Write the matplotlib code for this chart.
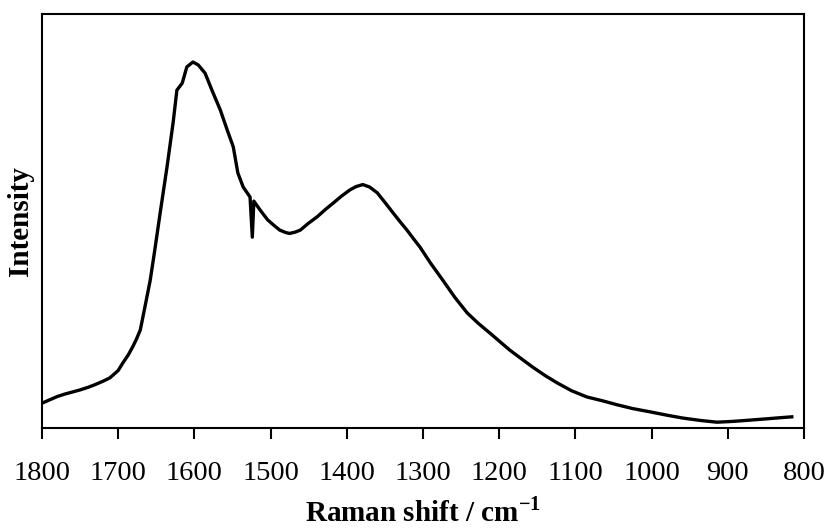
import matplotlib
matplotlib.use("Agg")
import matplotlib.pyplot as plt

# Raman shift (cm-1) and intensity (arbitrary, % of axis height)
shift = [1800, 1790, 1780, 1770, 1760, 1750, 1740, 1730, 1720, 1711, 1700, 1694, 1687,
         1681, 1676, 1671, 1665, 1658, 1652, 1645, 1636, 1628, 1623, 1616, 1610,
         1602, 1595, 1586, 1577, 1566, 1557, 1549, 1543, 1536, 1527,
         1524, 1522, 1514, 1504, 1496, 1488, 1480, 1475, 1468, 1461, 1450, 1439, 1428,
         1418, 1407, 1396, 1388, 1379, 1370, 1360, 1350, 1339, 1330, 1321, 1312, 1304,
         1290, 1274, 1258, 1242, 1227, 1212, 1200, 1186, 1170, 1156, 1140, 1124, 1105,
         1085, 1065, 1045, 1025, 1002, 980, 959, 935, 914, 893, 871, 850, 830, 816]
intensity = [6.0, 6.8, 7.6, 8.2, 8.7, 9.2, 9.8, 10.5, 11.3, 12.1, 13.9, 15.7, 17.6,
             19.6, 21.5, 23.7, 29.2, 35.7, 43.0, 51.9, 63.0, 73.7, 81.6, 83.3, 87.2,
             88.4, 87.7, 85.7, 81.6, 76.8, 72.0, 67.9, 61.6, 58.2, 55.8,
             46.1, 54.8, 52.7, 50.3, 49.0, 47.8, 47.2, 47.0, 47.3, 47.8, 49.5, 51.0, 52.8,
             54.3, 56.0, 57.5, 58.3, 58.8, 58.2, 56.8, 54.5, 51.9, 49.8, 47.8, 45.6, 43.7,
             39.8, 35.7, 31.5, 27.8, 25.2, 22.9, 21.0, 18.8, 16.6, 14.7, 12.7, 10.9, 9.0,
             7.5, 6.6, 5.6, 4.7, 3.9, 3.1, 2.4, 1.8, 1.4, 1.6, 1.9, 2.2, 2.5, 2.7]
xticks = [1800, 1700, 1600, 1500, 1400, 1300, 1200, 1100, 1000, 900, 800]

plt.rcParams['font.family'] = ['Liberation Serif', 'DejaVu Serif']
plt.rcParams['mathtext.fontset'] = 'custom'
plt.rcParams['mathtext.rm'] = 'Liberation Serif'
plt.rcParams['mathtext.bf'] = 'Liberation Serif:bold'

fig = plt.figure(figsize=(8.29, 5.28), dpi=100)
ax = fig.add_axes([0.0507, 0.1894, 0.9191, 0.7841])

ax.plot(shift, intensity, color='black', lw=2.4)

ax.set_xlim(1800, 800)
ax.set_ylim(0, 100)
ax.set_xticks(xticks)
ax.set_yticks([])
ax.tick_params(axis='x', direction='out', length=8, width=1.5, labelsize=20.5, pad=16)
for s in ax.spines.values():
    s.set_linewidth(1.5)

ax.set_xlabel('Raman shift / cm$^{\\mathbf{-1}}$', fontsize=21, fontweight='bold', labelpad=8)
ax.set_ylabel('Intensity', fontsize=21, fontweight='bold', labelpad=6)

fig.savefig('out.png', dpi=100)
